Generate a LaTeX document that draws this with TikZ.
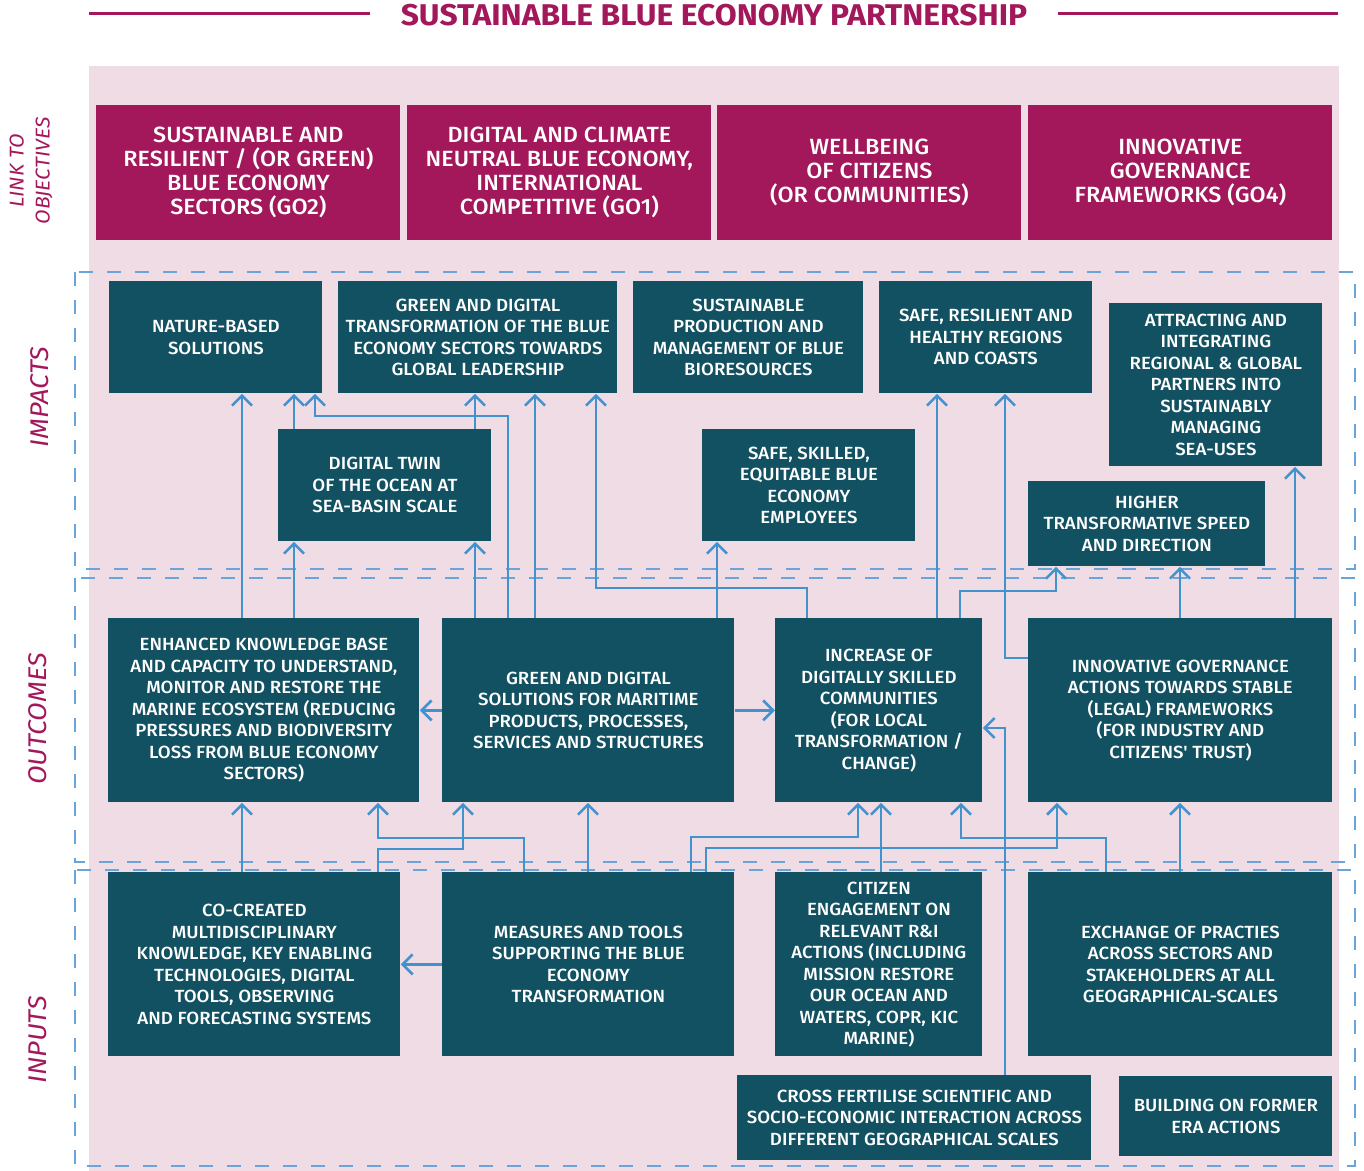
\documentclass[tikz,border=0pt]{standalone}
\usepackage{fontspec}
\setmainfont{Fira Sans}[FakeStretch=1.06]
\newfontfamily\medfont{Fira Sans Medium}[FakeStretch=1.06]
\usepackage{xcolor}
\definecolor{EuMagenta}{HTML}{A2185B}
\definecolor{EuTeal}{HTML}{125162}
\definecolor{EuPink}{HTML}{F0DCE5}
\definecolor{EuArrow}{HTML}{4292CE}
\definecolor{EuDash}{HTML}{6AA4D8}
\usepackage{tikz}
\usetikzlibrary{arrows.meta,positioning}

\begin{document}
\begin{tikzpicture}[x=0.5pt, y=-0.5pt, every node/.style={inner sep=2pt}]
\tikzset{objbox/.style={fill=EuMagenta, text=white, anchor=north west, align=center, minimum width=152pt, minimum height=67.5pt, font=\medfont\fontsize{11}{12}\selectfont}}
\tikzset{tealbox/.style={fill=EuTeal, text=white, anchor=north west, align=center, font=\medfont\fontsize{8.8}{10.75}\selectfont}}
\tikzset{sidelabel/.style={text=EuMagenta, rotate=90, align=center, font=\itshape\fontsize{12.8}{14}\selectfont}}
\tikzset{levelframe/.style={draw=EuDash, line width=1pt, dash pattern=on 7pt off 7pt}}
\tikzset{titleline/.style={draw=EuMagenta, line width=1.5pt}}
\tikzset{arrow/.style={draw=EuArrow, line width=1.3pt, -{Straight Barb[length=5pt,width=10pt]}}}
\useasboundingbox (0,0) rectangle (1364,1171);
\fill[EuPink] (89,66) rectangle (1339,1171);
\node[text=EuMagenta, font=\bfseries\fontsize{15}{16}\selectfont] (title) at (714,15) {SUSTAINABLE BLUE ECONOMY PARTNERSHIP};
\draw[titleline] (89,14) -- (370,14);
\draw[titleline] (1058,14) -- (1338,14);
\draw[levelframe] (75,272) rectangle (1355,569);
\draw[levelframe] (75,578) rectangle (1355,862);
\draw[levelframe] (75,870) rectangle (1355,1166);
\node[sidelabel, font=\itshape\fontsize{10}{13}\selectfont] (linkobj) at (31,171) {LINK TO\\OBJECTIVES};
\node[sidelabel] (impacts) at (40,397) {IMPACTS};
\node[sidelabel] (outcomes) at (38,719) {OUTCOMES};
\node[sidelabel] (inputs) at (38,1040) {INPUTS};
\node[objbox] (greensectors) at (96,105) {SUSTAINABLE AND\\RESILIENT / (OR GREEN)\\BLUE ECONOMY\\SECTORS (GO2)};
\node[objbox] (digitalclimate) at (407,105) {DIGITAL AND CLIMATE\\NEUTRAL BLUE ECONOMY,\\INTERNATIONAL\\COMPETITIVE (GO1)};
\node[objbox] (wellbeing) at (717,105) {WELLBEING\\OF CITIZENS\\(OR COMMUNITIES)};
\node[objbox] (governance) at (1028,105) {INNOVATIVE\\GOVERNANCE\\FRAMEWORKS (GO4)};
\node[tealbox, minimum width=106.5pt, minimum height=56pt] (naturebased) at (109,281) {NATURE-BASED\\SOLUTIONS};
\node[tealbox, minimum width=139.5pt, minimum height=56pt] (greentransf) at (338,281) {GREEN AND DIGITAL\\TRANSFORMATION OF THE BLUE\\ECONOMY SECTORS TOWARDS\\GLOBAL LEADERSHIP};
\node[tealbox, minimum width=115pt, minimum height=56pt] (bioresources) at (633,281) {SUSTAINABLE\\PRODUCTION AND\\MANAGEMENT OF BLUE\\BIORESOURCES};
\node[tealbox, minimum width=106.5pt, minimum height=56pt] (coasts) at (879,281) {SAFE, RESILIENT AND\\HEALTHY REGIONS\\AND COASTS};
\node[tealbox, minimum width=106.5pt, minimum height=81.5pt] (partners) at (1109,303) {ATTRACTING AND\\INTEGRATING\\REGIONAL \& GLOBAL\\PARTNERS INTO\\SUSTAINABLY\\MANAGING\\SEA-USES};
\node[tealbox, minimum width=106.5pt, minimum height=56pt] (twin) at (278,429) {DIGITAL TWIN\\OF THE OCEAN AT\\SEA-BASIN SCALE};
\node[tealbox, minimum width=106.5pt, minimum height=56pt] (employees) at (702,429) {SAFE, SKILLED,\\EQUITABLE BLUE\\ECONOMY\\EMPLOYEES};
\node[tealbox, minimum width=118.5pt, minimum height=42.5pt] (speed) at (1028,481) {HIGHER\\TRANSFORMATIVE SPEED\\AND DIRECTION};
\node[tealbox, minimum width=155.5pt, minimum height=92pt] (knowledge) at (108,618) {ENHANCED KNOWLEDGE BASE\\AND CAPACITY TO UNDERSTAND,\\MONITOR AND RESTORE THE\\MARINE ECOSYSTEM (REDUCING\\PRESSURES AND BIODIVERSITY\\LOSS FROM BLUE ECONOMY\\SECTORS)};
\node[tealbox, minimum width=146pt, minimum height=92pt] (solutions) at (442,618) {GREEN AND DIGITAL\\SOLUTIONS FOR MARITIME\\PRODUCTS, PROCESSES,\\SERVICES AND STRUCTURES};
\node[tealbox, minimum width=103.5pt, minimum height=92pt] (skilled) at (775,618) {INCREASE OF\\DIGITALLY SKILLED\\COMMUNITIES\\(FOR LOCAL\\TRANSFORMATION /\\CHANGE)};
\node[tealbox, minimum width=152pt, minimum height=92pt] (govactions) at (1028,618) {INNOVATIVE GOVERNANCE\\ACTIONS TOWARDS STABLE\\(LEGAL) FRAMEWORKS\\(FOR INDUSTRY AND\\CITIZENS' TRUST)};
\node[tealbox, minimum width=146pt, minimum height=92pt] (cocreated) at (108,872) {CO-CREATED\\MULTIDISCIPLINARY\\KNOWLEDGE, KEY ENABLING\\TECHNOLOGIES, DIGITAL\\TOOLS, OBSERVING\\AND FORECASTING SYSTEMS};
\node[tealbox, minimum width=146pt, minimum height=92pt] (measures) at (442,872) {MEASURES AND TOOLS\\SUPPORTING THE BLUE\\ECONOMY\\TRANSFORMATION};
\node[tealbox, minimum width=103.5pt, minimum height=92pt] (citizen) at (775,872) {CITIZEN\\ENGAGEMENT ON\\RELEVANT R\&I\\ACTIONS (INCLUDING\\MISSION RESTORE\\OUR OCEAN AND\\WATERS, COPR, KIC\\MARINE)};
\node[tealbox, minimum width=152pt, minimum height=92pt] (exchange) at (1028,872) {EXCHANGE OF PRACTIES\\ACROSS SECTORS AND\\STAKEHOLDERS AT ALL\\GEOGRAPHICAL-SCALES};
\node[tealbox, minimum width=177pt, minimum height=42.5pt] (crossfert) at (737,1075) {CROSS FERTILISE SCIENTIFIC AND\\SOCIO-ECONOMIC INTERACTION ACROSS\\DIFFERENT GEOGRAPHICAL SCALES};
\node[tealbox, minimum width=106.5pt, minimum height=40pt] (era) at (1119,1076) {BUILDING ON FORMER\\ERA ACTIONS};
\draw[arrow] (knowledge.north -| 242,0) -- (naturebased.south -| 242,0);
\draw[arrow] (knowledge.north -| 294,0) -- (twin.south -| 294,0);
\draw[arrow] (twin.north -| 294,0) -- (naturebased.south -| 294,0);
\draw[arrow] (solutions.north -| 508,0) |- (315,416) -- (naturebased.south -| 315,0);
\draw[arrow] (twin.north -| 475,0) -- (greentransf.south -| 475,0);
\draw[arrow] (solutions.north -| 475,0) -- (twin.south -| 475,0);
\draw[arrow] (solutions.north -| 535,0) -- (greentransf.south -| 535,0);
\draw[arrow] (skilled.north -| 807,0) |- (596,588) -- (bioresources.south -| 596,0);
\draw[arrow] (solutions.north -| 717,0) -- (employees.south -| 717,0);
\draw[arrow] (skilled.north -| 937,0) -- (coasts.south -| 937,0);
\draw[arrow] (govactions.west |- 0,658) -| (coasts.south -| 1005,0);
\draw[arrow] (skilled.north -| 960,0) |- (1056,591) -- (speed.south -| 1056,0);
\draw[arrow] (govactions.north -| 1180,0) -- (speed.south -| 1180,0);
\draw[arrow] (govactions.north -| 1295,0) -- (partners.south -| 1295,0);
\draw[arrow] (solutions.west) -- (knowledge.east);
\draw[arrow] (solutions.east) -- (skilled.west);
\draw[arrow] (crossfert.north -| 1005,0) |- (skilled.east |- 0,728);
\draw[arrow] (cocreated.north -| 242,0) -- (knowledge.south -| 242,0);
\draw[arrow] (measures.north -| 524,0) |- (378,838) -- (knowledge.south -| 378,0);
\draw[arrow] (cocreated.north -| 378,0) |- (463,849) -- (solutions.south -| 463,0);
\draw[arrow] (measures.north -| 588,0) -- (solutions.south -| 588,0);
\draw[arrow] (measures.north -| 691,0) |- (858,837) -- (skilled.south -| 858,0);
\draw[arrow] (measures.north -| 706,0) |- (1057,848) -- (govactions.south -| 1057,0);
\draw[arrow] (citizen.north -| 881,0) -- (skilled.south -| 881,0);
\draw[arrow] (exchange.north -| 1106,0) |- (961,838) -- (skilled.south -| 961,0);
\draw[arrow] (exchange.north -| 1180,0) -- (govactions.south -| 1180,0);
\draw[arrow] (measures.west) -- (cocreated.east);
\end{tikzpicture}
\end{document}
